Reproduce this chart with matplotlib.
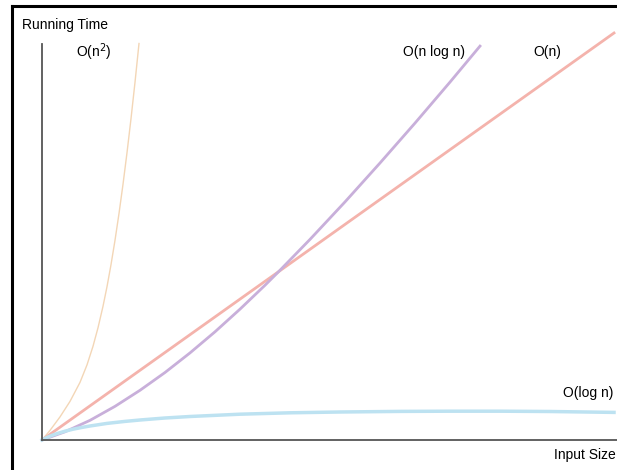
import numpy as np
import matplotlib
matplotlib.use("Agg")
import matplotlib.pyplot as plt
from matplotlib.lines import Line2D

# curves (x = input size, y = running time, arbitrary units)
n_sq_x = [0, 8, 18, 28, 38, 45, 51, 56, 61, 65, 69, 73, 77, 81, 85, 89, 93, 97]
n_sq_y = [0, 9.6, 23.1, 38.6, 57.6, 75.1, 93.7, 112.2, 133.7, 153.3, 175.3, 199.7,
          226.5, 255.7, 287.3, 321.3, 357.7, 396.5]

n_x = [0, 572]
n_y = [0, 407]

nlogn_x = [0, 23, 48, 73, 98, 123, 148, 173, 198, 223, 236, 268, 303, 338, 373, 408, 438]
nlogn_y = [0, 8.2, 19.65, 33.65, 49.7, 67.5, 87.1, 108.2, 130.85, 154.75, 167.7,
           200.6, 238.1, 277, 316.9, 357.9, 393.9]

logn_x = [0, 5, 10, 15, 23, 31, 40, 48, 65, 83, 98, 123, 148, 198, 248, 298, 358, 408, 458, 508, 572]
logn_y = [0, 2.5, 4.6, 6.4, 8.8, 10.8, 12.6, 14, 16.6, 18.6, 20, 22, 23.5, 25.8, 27.2,
          28, 28.6, 28.8, 28.8, 28.5, 27.6]

W, H = 617, 470
fig = plt.figure(figsize=(W / 100, H / 100), dpi=100)
ax = fig.add_axes([42 / W, 30 / H, 575 / W, 396 / H])

ax.plot(n_sq_x, n_sq_y, color='#f3d6b6', lw=1.0, clip_on=False)
ax.plot(n_x, n_y, color='#f4b3ac', lw=2.0, clip_on=False)
ax.plot(nlogn_x, nlogn_y, color='#c8afda', lw=2.0, clip_on=False)
ax.plot(logn_x, logn_y, color='#bde2f1', lw=2.5, clip_on=False)

ax.set_xlim(0, 575)
ax.set_ylim(0, 396)
ax.set_xticks([])
ax.set_yticks([])
for s in ['top', 'right']:
    ax.spines[s].set_visible(False)
for s in ['left', 'bottom']:
    ax.spines[s].set_color('#555555')
    ax.spines[s].set_linewidth(1.3)

# black frame on the left and top edges
fig.add_artist(Line2D([12 / W, 12 / W], [0, 1 - 6 / H], color='black', lw=2.2,
                      transform=fig.transFigure, solid_capstyle='projecting'))
fig.add_artist(Line2D([12 / W, 1], [1 - 6 / H, 1 - 6 / H], color='black', lw=2.2,
                      transform=fig.transFigure, solid_capstyle='projecting'))

font = 'Liberation Sans'
fig.text(22 / W, 1 - 25 / H, 'Running Time', fontsize=10, family=font, va='center', ha='left')
fig.text(616 / W, 1 - 455 / H, 'Input Size', fontsize=10, family=font, va='center', ha='right')
fig.text(94 / W, 1 - 52 / H, 'O(n$^2$)', fontsize=10, family=font, va='center', ha='center')
fig.text(434 / W, 1 - 52 / H, 'O(n log n)', fontsize=10, family=font, va='center', ha='center')
fig.text(547 / W, 1 - 52 / H, 'O(n)', fontsize=10, family=font, va='center', ha='center')
fig.text(613 / W, 1 - 393 / H, 'O(log n)', fontsize=10, family=font, va='center', ha='right')

fig.savefig('out.png', dpi=100)
